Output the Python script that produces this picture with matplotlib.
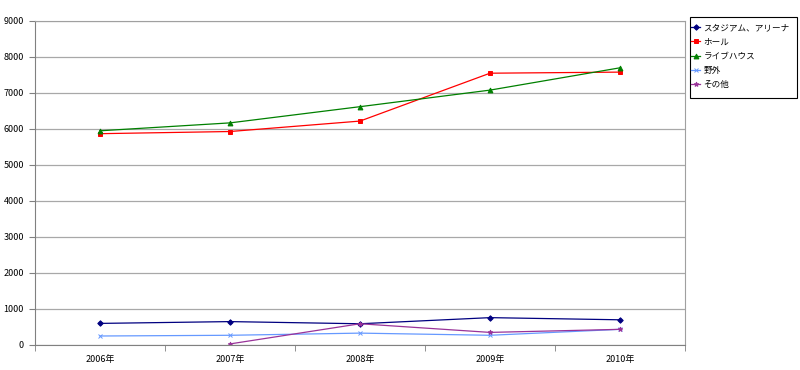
import numpy as np
import matplotlib
matplotlib.use("Agg")
import matplotlib.pyplot as plt
from matplotlib.patches import Rectangle

plt.rcParams['font.family'] = ['Noto Sans CJK JP', 'DejaVu Sans']

years = ["2006年", "2007年", "2008年", "2009年", "2010年"]
stadium = [600, 650, 590, 760, 700]
hall = [5870, 5930, 6220, 7550, 7580]
livehouse = [5950, 6170, 6620, 7080, 7700]
outdoor = [250, 270, 330, 270, 435]
other = [np.nan, 30, 590, 350, 435]

series = [
    ("スタジアム、アリーナ", stadium, "#000080", "D", 2.8),
    ("ホール", hall, "#FF0000", "s", 3.2),
    ("ライブハウス", livehouse, "#008000", "^", 3.5),
    ("野外", outdoor, "#6699FF", "x", 3.5),
    ("その他", other, "#993399", "*", 3.5),
]

W, H = 800, 370
fig = plt.figure(figsize=(8, 3.7), dpi=100)
ax = fig.add_axes([35 / W, 1 - 345 / H, 650 / W, 324 / H])

x = np.arange(len(years))
handles = []
for name, vals, col, mk, ms in series:
    h, = ax.plot(x, vals, color=col, marker=mk, markersize=ms, linewidth=0.9,
                 markeredgewidth=0.7, label=name)
    handles.append(h)

ax.set_xlim(-0.5, len(years) - 0.5)
ax.set_ylim(0, 9000)
ax.set_yticks(np.arange(0, 9001, 1000))
ax.yaxis.grid(True, color="#A8A8A8", linewidth=0.9)
ax.set_axisbelow(True)

ax.set_xticks(x)
ax.set_xticklabels(years)
ax.set_xticks(np.arange(-0.5, len(years), 1.0), minor=True)
ax.tick_params(axis="x", which="major", length=0, pad=7, labelsize=6.5)
ax.tick_params(axis="x", which="minor", length=4, color="#808080", direction="out")
ax.tick_params(axis="y", length=4, color="#808080", labelsize=6.5, pad=4)

for side in ["left", "bottom"]:
    ax.spines[side].set_color("#808080")
for side in ["top", "right"]:
    ax.spines[side].set_color("#A0A0A0")

# legend box drawn separately so its padding matches the original
fig.patches.append(Rectangle((690 / W, 1 - 98 / H), 107 / W, 81 / H,
                             transform=fig.transFigure, facecolor="white",
                             edgecolor="#000000", linewidth=0.8, zorder=2))
leg = fig.legend(handles=handles, loc="upper left", bbox_to_anchor=(691 / W, 1 - 23 / H),
                 fontsize=6.2, handlelength=1.1, handletextpad=0.35,
                 labelspacing=0.62, borderpad=0.0, frameon=False, borderaxespad=0)
leg.set_zorder(3)

fig.savefig("out.png", dpi=100)
